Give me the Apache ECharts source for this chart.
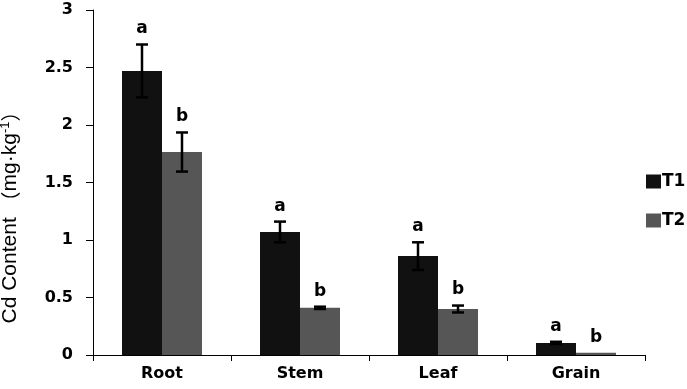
<!DOCTYPE html>
<html><head><meta charset="utf-8">
<script src="https://cdn.jsdelivr.net/npm/echarts@6/dist/echarts.min.js"></script>
<style>html,body{margin:0;padding:0;background:#fff}#c{width:687px;height:389px}</style>
</head><body><div id="c"></div>
<script>
var categories = ['Root', 'Stem', 'Leaf', 'Grain'];
var t1Values = [2.47, 1.07, 0.86, 0.105];
var t1Errors = [0.23, 0.09, 0.12, 0.01];
var t2Values = [1.765, 0.41, 0.40, 0.02];
var t2Errors = [0.17, 0.01, 0.03, 0.0];
var t1Letters = ['a', 'a', 'a', 'a'];
var t2Letters = ['b', 'b', 'b', 'b'];
var yTicks = ['0', '0.5', '1', '1.5', '2', '2.5', '3'];

var BAR_W = 40;
function errSeries(vals, errs, letters, offset) {
  var data = vals.map(function (v, i) { return [i, v, errs[i], letters[i]]; });
  return {
    type: 'custom', data: data, z: 10, silent: true,
    renderItem: function (params, api) {
      var i = api.value(0), v = api.value(1), e = api.value(2);
      var top = api.coord([i, v + e]), bot = api.coord([i, v - e]);
      var x = top[0] + offset;
      var children = [];
      if (e > 0) {
        var st = {stroke: '#000', lineWidth: 2.5};
        children.push({type: 'line', shape: {x1: x, y1: top[1], x2: x, y2: bot[1]}, style: st});
        children.push({type: 'line', shape: {x1: x - 6, y1: top[1], x2: x + 6, y2: top[1]}, style: st});
        children.push({type: 'line', shape: {x1: x - 6, y1: bot[1], x2: x + 6, y2: bot[1]}, style: st});
      }
      children.push({type: 'text', style: {text: data[params.dataIndex][3], x: x, y: top[1] - 7,
        align: 'center', verticalAlign: 'bottom', fill: '#000',
        font: 'bold 17px "DejaVu Sans"'}});
      return {type: 'group', children: children};
    }
  };
}

var NAME_FONT = '"Liberation Sans Narrow", "Liberation Sans", sans-serif';
var chart = echarts.init(document.getElementById('c'));
chart.setOption({
  animation: false,
  backgroundColor: '#fff',
  grid: {left: 93, right: 42, top: 10, bottom: 34, containLabel: false, outerBoundsMode: 'none'},
  legend: {
    orient: 'vertical', left: 641, top: 168, itemWidth: 15, itemHeight: 14, itemGap: 22,
    icon: 'rect',
    textStyle: {fontFamily: 'DejaVu Sans', fontWeight: 'bold', fontSize: 17, color: '#000', padding: [0, 0, 0, -4]},
    data: ['T1', 'T2']
  },
  xAxis: {
    type: 'category', data: categories,
    axisLine: {lineStyle: {color: '#000', width: 1}},
    axisTick: {show: true, length: 6, lineStyle: {color: '#000'}},
    axisLabel: {color: '#000', fontFamily: 'DejaVu Sans', fontWeight: 'bold', fontSize: 16, margin: 11}
  },
  yAxis: {
    type: 'value', min: 0, max: 3, interval: 0.5,
    name: '{t|Cd Content }{p|（}{t|mg·kg}{s|-1}{p|）}', nameLocation: 'middle', nameGap: 72, nameRotate: 90,
    nameTextStyle: {fontFamily: NAME_FONT, fontSize: 21, color: '#000',
      padding: [0, 60, 0, 0],
      rich: {
        t: {fontFamily: NAME_FONT, fontSize: 21, color: '#000'},
        p: {fontFamily: '"Noto Sans CJK SC"', fontSize: 20, color: '#000'},
        s: {fontSize: 13, verticalAlign: 'top', padding: [0, 0, 9, 0], fontFamily: NAME_FONT, color: '#000'}
      }},
    axisLine: {show: true, lineStyle: {color: '#000', width: 1}},
    axisTick: {show: true, length: 7, lineStyle: {color: '#000'}},
    splitLine: {show: false},
    axisLabel: {color: '#000', fontFamily: 'DejaVu Sans', fontWeight: 'bold', fontSize: 16, margin: 20,
      formatter: function (v) { return yTicks[Math.round(v / 0.5)]; }}
  },
  series: [
    {name: 'T1', type: 'bar', data: t1Values, barWidth: BAR_W, barGap: '0%', itemStyle: {color: '#111111'}},
    {name: 'T2', type: 'bar', data: t2Values, barWidth: BAR_W, barGap: '0%', itemStyle: {color: '#565656'}},
    errSeries(t1Values, t1Errors, t1Letters, -BAR_W / 2),
    errSeries(t2Values, t2Errors, t2Letters, BAR_W / 2)
  ]
});
</script></body></html>
